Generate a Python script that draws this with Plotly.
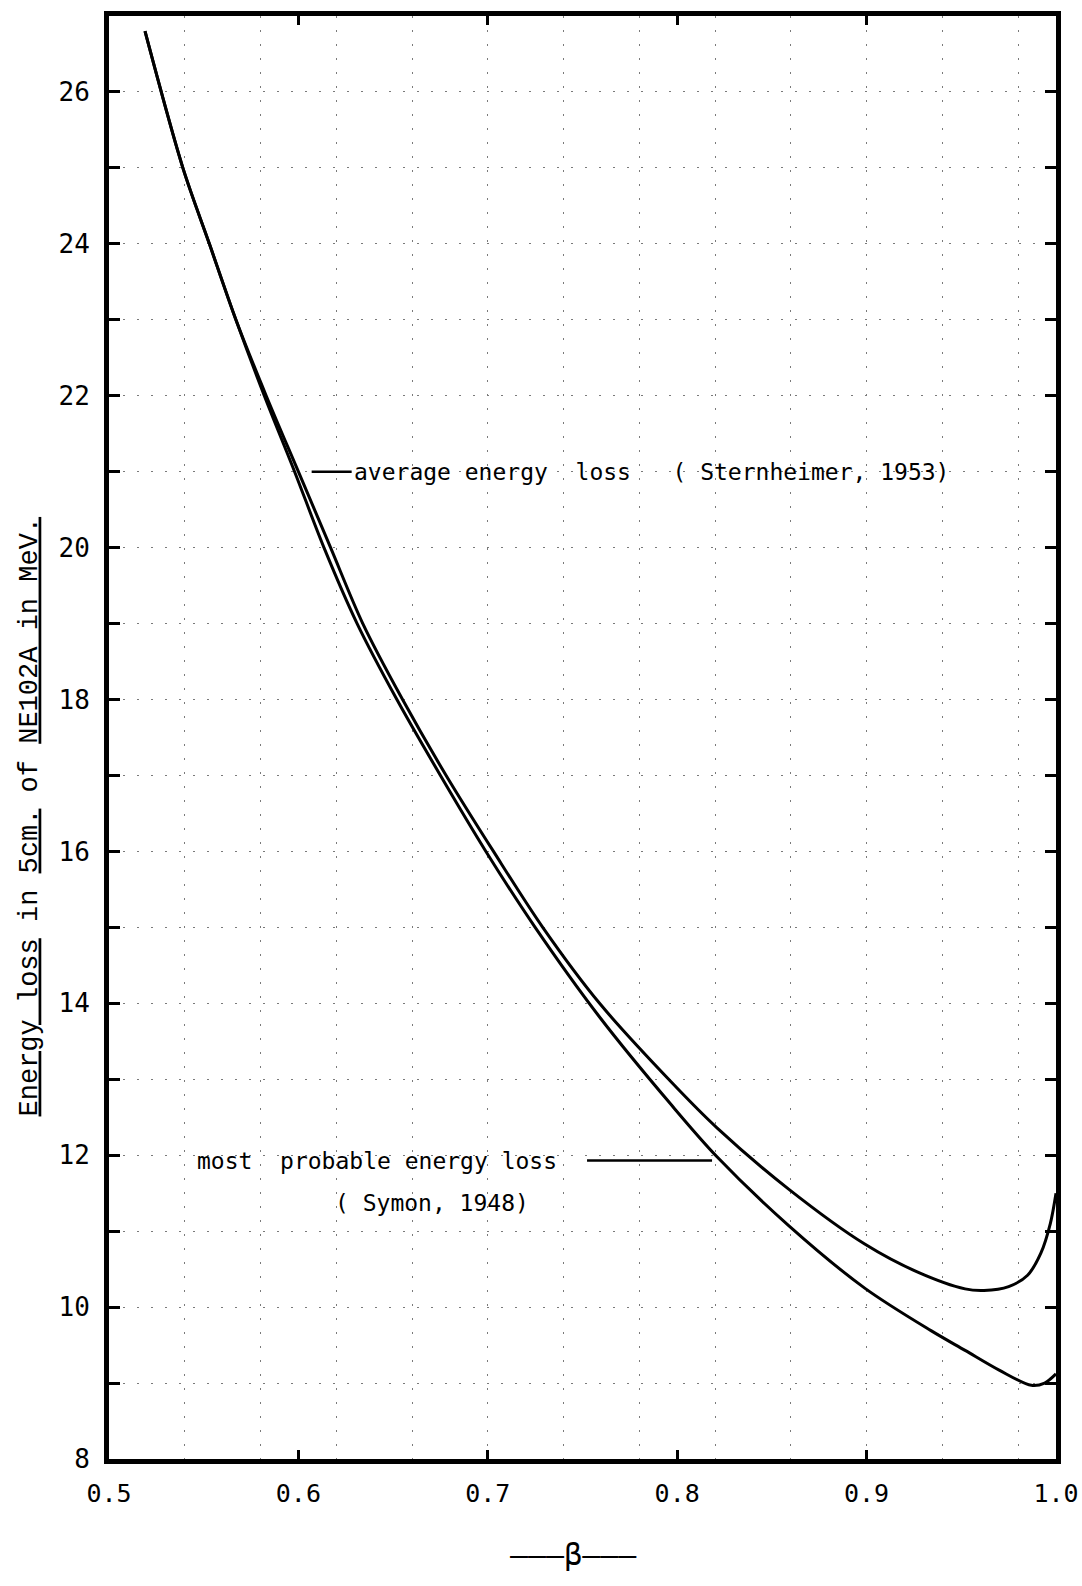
import plotly.graph_objects as go

# ---- data ----
beta_avg = [0.519, 0.539, 0.553, 0.567, 0.583, 0.600, 0.617, 0.634, 0.655, 0.678,
            0.703, 0.729, 0.759, 0.797, 0.821, 0.859, 0.899, 0.927, 0.952, 0.962,
            0.975, 0.985, 0.992, 0.997, 1.000]
e_avg = [26.8, 25.0, 24.0, 23.0, 22.0, 21.0, 20.0, 19.0, 18.0, 17.0,
         16.0, 15.0, 14.0, 12.96, 12.36, 11.55, 10.83, 10.46, 10.24, 10.22,
         10.27, 10.42, 10.71, 11.10, 11.50]

beta_mp = [0.519, 0.539, 0.553, 0.567, 0.582, 0.598, 0.6135, 0.631, 0.652, 0.675,
           0.699, 0.725, 0.759, 0.797, 0.821, 0.859, 0.899, 0.934, 0.952, 0.970,
           0.987, 0.994, 1.000]
e_mp = [26.8, 25.0, 24.0, 23.0, 22.0, 21.0, 20.0, 19.0, 18.0, 17.0,
        16.0, 15.0, 13.82, 12.66, 11.98, 11.07, 10.25, 9.69, 9.43, 9.17,
        8.97, 9.00, 9.12]

x_tick_vals = [0.5, 0.6, 0.7, 0.8, 0.9, 1.0]
x_tick_text = ["0.5", "0.6", "0.7", "0.8", "0.9", "1.0"]
y_tick_vals = [8, 10, 12, 14, 16, 18, 20, 22, 24, 26]
y_tick_text = ["8", "10", "12", "14", "16", "18", "20", "22", "24", "26"]

label_avg = "average energy\u00a0\u00a0loss\u00a0\u00a0\u00a0(\u00a0Sternheimer, 1953)"
label_mp = "most\u00a0\u00a0probable energy loss\u00a0\u00a0"
label_mp2 = "(\u00a0Symon, 1948)"

LETTER = "DejaVu Sans Mono"

fig = go.Figure()
fig.add_trace(go.Scatter(
    x=beta_avg, y=e_avg, mode="lines",
    line=dict(color="black", width=3, shape="spline", smoothing=0.9),
    name="average energy loss (Sternheimer, 1953)"))
fig.add_trace(go.Scatter(
    x=beta_mp, y=e_mp, mode="lines",
    line=dict(color="black", width=3, shape="spline", smoothing=0.9),
    name="most probable energy loss (Symon, 1948)"))

fig.update_layout(
    width=1082, height=1586,
    margin=dict(l=109, r=26, t=16, b=127),
    paper_bgcolor="white", plot_bgcolor="white",
    showlegend=False,
    font=dict(family=LETTER, color="black", size=22),
)

grid_style = dict(gridcolor="#7a7a7a", griddash="2px,12px", gridwidth=1.2)

fig.update_xaxes(
    range=[0.5, 1.0], tickmode="array", tickvals=x_tick_vals, ticktext=x_tick_text,
    ticks="inside", ticklen=9, tickwidth=2.5, tickcolor="black",
    showline=True, linewidth=5, linecolor="black", mirror="ticks",
    showgrid=False, zeroline=False, automargin=False,
    tickfont=dict(family=LETTER, size=25),
    ticklabelstandoff=8, ticklabeloverflow="allow",
    minor=dict(tick0=0.5, dtick=0.04, showgrid=True, ticks="", **grid_style),
)
fig.update_yaxes(
    range=[8, 27], tickmode="array", tickvals=y_tick_vals, ticktext=y_tick_text,
    ticks="inside", ticklen=11, tickwidth=2.5, tickcolor="black",
    showline=True, linewidth=5, linecolor="black", mirror="ticks",
    showgrid=True, zeroline=False, automargin=False, **grid_style,
    tickfont=dict(family=LETTER, size=26),
    ticklabelstandoff=9, ticklabeloverflow="allow",
    minor=dict(tick0=8, dtick=1, showgrid=True, ticks="inside", ticklen=11,
               tickwidth=2.5, tickcolor="black", **grid_style),
)

# curve labels
fig.add_annotation(x=0.607, y=21.0, xref="x", yref="y", text=label_avg,
                   showarrow=True, arrowhead=0, arrowwidth=2.5, arrowcolor="black",
                   ax=40, ay=0, xanchor="left", standoff=0,
                   font=dict(family=LETTER, size=23))
fig.add_annotation(x=0.8184, y=11.93, xref="x", yref="y", text=label_mp,
                   showarrow=True, arrowhead=0, arrowwidth=2.5, arrowcolor="black",
                   ax=-125, ay=0, xanchor="right", standoff=0,
                   font=dict(family=LETTER, size=23))
fig.add_annotation(x=0.6705, y=11.37, xref="x", yref="y", text=label_mp2,
                   showarrow=False, xanchor="center",
                   font=dict(family=LETTER, size=23))

# axis titles
ytitle = ('<span style="text-decoration:underline">Energy loss</span> in '
          '<span style="text-decoration:underline">5cm.</span> of '
          '<span style="text-decoration:underline">NE102A in MeV.</span>')
fig.add_annotation(x=-0.0834, y=0.4453, xref="paper", yref="paper", text=ytitle,
                   textangle=-90, showarrow=False, xanchor="center", yanchor="middle",
                   font=dict(family="Liberation Mono", size=27))
fig.add_annotation(x=0.491, y=-0.0665, xref="paper", yref="paper",
                   text="\u2014\u2014\u2014\u03b2\u2014\u2014\u2014",
                   showarrow=False, xanchor="center", yanchor="middle",
                   font=dict(family=LETTER, size=30))

# remove the default 8px body margin so the figure fills the window exactly
fig.write_html("out.html",
               config={"displayModeBar": False},
               post_script="document.body.style.margin='0px';"
                           "document.body.style.overflow='hidden';")
